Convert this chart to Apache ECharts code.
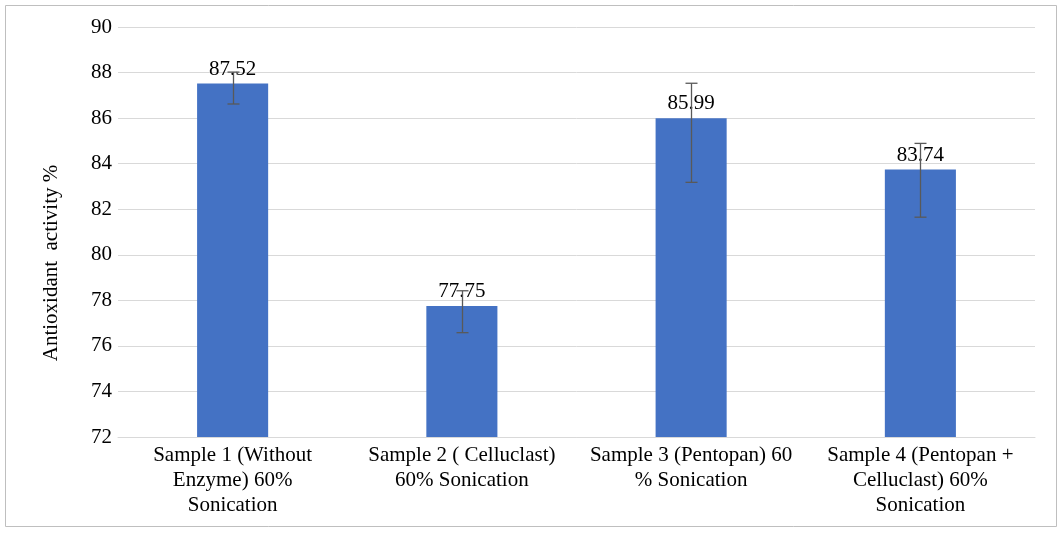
<!DOCTYPE html>
<html>
<head>
<meta charset="utf-8">
<script src="https://cdn.jsdelivr.net/npm/echarts@6/dist/echarts.min.js"></script>
<style>
  html, body { margin: 0; padding: 0; background: #fff; }
  #chart { width: 1062px; height: 533px; }
</style>
</head>
<body>
<div id="chart"></div>
<script>
// sample names (x axis)
const categories = [
  "Sample 1 (Without\nEnzyme) 60%\nSonication",
  "Sample 2 ( Celluclast)\n60% Sonication",
  "Sample 3 (Pentopan) 60\n% Sonication",
  "Sample 4 (Pentopan +\nCelluclast) 60%\nSonication"
];
// mean values
const activity = [87.52, 77.75, 85.99, 83.74];
// error bar ends
const errLow = [86.62, 76.58, 83.18, 81.65];
const errHigh = [88.02, 78.42, 87.53, 84.89];

const chartDom = document.getElementById("chart");
const myChart = echarts.init(chartDom);

const font = "Liberation Serif";

const option = {
  animation: false,
  backgroundColor: "#fff",
  grid: { left: 118, right: 27, top: 27, bottom: 96 },
  graphic: [
    {
      type: "rect",
      shape: { x: 5.5, y: 5.5, width: 1051, height: 521 },
      style: { fill: "none", stroke: "#bfbfbf", lineWidth: 1 }
    },
    {
      type: "text",
      x: 51, y: 263,
      rotation: Math.PI / 2,
      style: {
        text: "Antioxidant  activity %",
        font: "21px " + font,
        fill: "#000",
        align: "center",
        verticalAlign: "middle"
      }
    }
  ],
  xAxis: {
    type: "category",
    data: categories,
    axisLine: { lineStyle: { color: "#d9d9d9", width: 1 } },
    axisTick: { show: false },
    axisLabel: {
      interval: 0,
      color: "#000",
      fontFamily: font,
      fontSize: 21,
      lineHeight: 25,
      margin: 6
    }
  },
  yAxis: {
    type: "value",
    min: 72,
    max: 90,
    interval: 2,
    axisLine: { show: false },
    axisTick: { show: false },
    splitLine: { lineStyle: { color: "#d9d9d9", width: 1 } },
    axisLabel: { color: "#000", fontFamily: font, fontSize: 21, margin: 6 }
  },
  series: [
    {
      type: "bar",
      data: activity,
      barWidth: "31%",
      itemStyle: { color: "#4472c4" },
      label: {
        show: true,
        position: "top",
        distance: 4,
        color: "#000",
        fontFamily: font,
        fontSize: 21,
        formatter: (p) => p.value.toFixed(2)
      },
      z: 2
    },
    {
      type: "custom",
      data: activity.map((v, i) => [i, errLow[i], errHigh[i]]),
      z: 5,
      renderItem: function (params, api) {
        const lo = api.coord([api.value(0), api.value(1)]);
        const hi = api.coord([api.value(0), api.value(2)]);
        const x = Math.round(lo[0]) + 0.5;
        const half = 6;
        const st = { stroke: "#595959", lineWidth: 1.3 };
        return {
          type: "group",
          children: [
            { type: "line", shape: { x1: x, y1: hi[1], x2: x, y2: lo[1] }, style: st },
            { type: "line", shape: { x1: x - half, y1: hi[1], x2: x + half, y2: hi[1] }, style: st },
            { type: "line", shape: { x1: x - half, y1: lo[1], x2: x + half, y2: lo[1] }, style: st }
          ]
        };
      }
    }
  ]
};

myChart.setOption(option);
</script>
</body>
</html>
